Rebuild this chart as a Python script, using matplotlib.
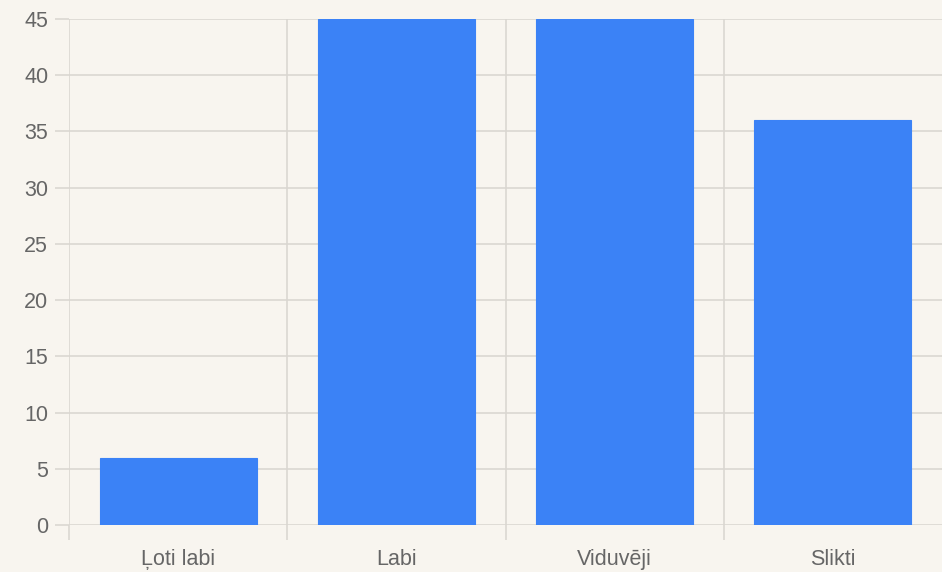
import matplotlib
matplotlib.use("Agg")
import matplotlib.pyplot as plt
import numpy as np

categories = ["Ļoti labi", "Labi", "Viduvēji", "Slikti"]
values = [6, 45, 45, 36]

bg = "#f8f5ef"
grid_c = "#dad7d1"

plt.rcParams["font.family"] = ["Liberation Sans", "DejaVu Sans"]

fig = plt.figure(figsize=(9.42, 5.72), dpi=100, facecolor=bg)
ax = fig.add_axes([69/942, 1 - 525/572, 1 - 69/942, (525 - 19)/572])
ax.set_facecolor(bg)

x = np.arange(len(categories))
ax.bar(x, values, width=0.72, color="#3b82f6", edgecolor="#3b82f6", linewidth=0.8, zorder=3)

ax.set_xlim(-0.5, len(categories) - 0.5)
ax.set_ylim(0, 45)
ax.set_yticks(np.arange(0, 46, 5))
ax.set_xticks(x)
ax.set_xticklabels(categories)
ax.set_xticks(np.arange(-0.5, len(categories) - 1, 1), minor=True)

for s in ax.spines.values():
    s.set_visible(False)

ax.grid(axis="y", which="major", color=grid_c, linewidth=1.2, zorder=0)
ax.grid(axis="x", which="minor", color=grid_c, linewidth=1.2, zorder=0)
ax.grid(axis="x", which="major", visible=False)

ax.tick_params(axis="y", which="major", length=10, width=1.2, color=grid_c,
               labelsize=15.5, labelcolor="#666666", pad=5)
ax.tick_params(axis="x", which="major", length=0, labelsize=15.5,
               labelcolor="#666666", pad=17)
ax.tick_params(axis="x", which="minor", length=11, width=1.2, color=grid_c)

fig.savefig("out.png", dpi=100, facecolor=bg)
